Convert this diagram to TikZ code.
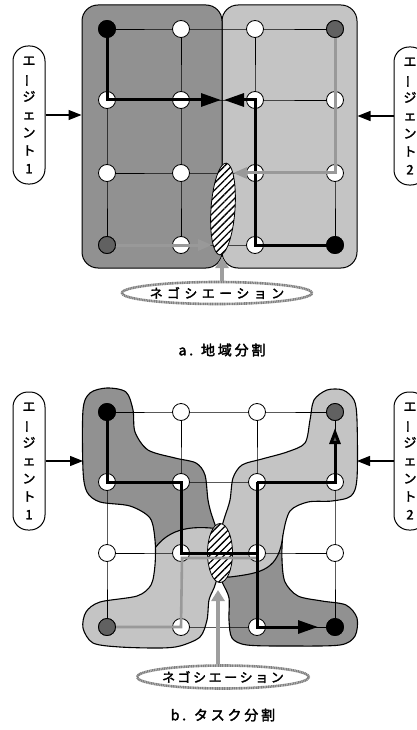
\documentclass[tikz,border=0pt]{standalone}
\usepackage{fontspec}
\usepackage{graphicx}
\newfontfamily\jp[FakeBold=2]{Noto Sans CJK JP}
\newfontfamily\jpa[FakeBold=2,LetterSpace=34]{Noto Sans CJK JP}
\newfontfamily\jpbb[FakeBold=2,LetterSpace=20]{Noto Sans CJK JP}
\newfontfamily\jpcap[FakeBold=2.5,LetterSpace=20]{Noto Sans CJK JP}
\usetikzlibrary{arrows.meta,patterns.meta,shapes.geometric}
\colorlet{dk}{black!43}
\colorlet{lt}{black!23}
\tikzset{
  wn/.style={circle, draw, fill=white, minimum size=17pt, inner sep=0pt, line width=0.8pt},
  bn/.style={wn, fill=black},
  gn/.style={wn, fill=black!62},
  gridline/.style={line width=0.7pt},
  bk/.style={line width=3pt},
  gr/.style={line width=3pt, draw=black!40},
  bkarrow/.style={bk, -{Triangle[length=20pt,width=13pt]}},
  grarrow/.style={gr, -{Triangle[length=14pt,width=11pt]}},
  agent/.style={draw, rounded corners=15pt, minimum width=32pt, minimum height=138pt, line width=1pt, inner sep=0pt, align=center, font=\jp\fontsize{13}{18}\selectfont},
  agarrow/.style={line width=1.2pt, -{Triangle[length=13pt,width=10pt]}},
  region/.style={draw, rounded corners=16pt, line width=1pt, inner sep=0pt},
  blobline/.style={line width=1.1pt},
  hatch/.style={ellipse, draw, line width=0.8pt, fill=white, inner sep=0pt, postaction={pattern={Lines[angle=45,distance=5pt,line width=1.3pt]}}},
  nego/.style={ellipse, draw=black!50, line width=2.6pt, dash pattern=on 1.2pt off 0.5pt, fill=white, inner sep=0pt},
  negoarrow/.style={line width=4pt, draw=black!38, -{Triangle[length=11pt,width=13pt]}},
  caption/.style={font=\jpcap\fontsize{14}{16}\selectfont}
}
\def\Upath{plot[smooth cycle, tension=0.5] coordinates {
 (107,388) (126,392) (133,410) (135,432) (148,450) (175,458) (196,463) (205,475) (208,500) (212,516) (219,532)
 (225,516) (230,500) (233,478) (242,465) (262,459) (287,452) (305,443) (310,420) (314,400) (327,390) (343,390)
 (354,400) (357,420) (357,478) (351,496) (332,501) (308,502) (290,511) (283,535) (282,560) (285,582) (298,596)
 (322,601) (346,605) (357,618) (355,636) (340,645) (290,646) (247,645) (232,638) (229,620) (229,598) (223,584)
 (219,575) (214,588) (209,600) (207,620) (200,637) (180,646) (160,648) (120,647) (93,643) (83,628) (86,612)
 (100,602) (137,596) (151,585) (155,565) (155,540) (150,518) (130,506) (100,502) (87,492) (83,470) (83,410) (90,393)}}
\begin{document}
\begin{tikzpicture}[x=1pt,y=-1pt]
\useasboundingbox (0,0) rectangle (417,730);
\clip (0,0) rectangle (417,730);

% ================= a. 地域分割 =================
\node[region, fill=lt, minimum width=135pt, minimum height=263pt] (regR) at (289.5,136.5) {};
\node[region, fill=dk, minimum width=140pt, minimum height=263pt] (regL) at (152,136.5) {};

\foreach \r/\y in {1/29,2/100,3/173,4/245}
  \foreach \c/\x in {1/107,2/181,3/255,4/335}
    \coordinate (p\r\c) at (\x,\y);

\foreach \r in {1,2,3,4}{
  \draw[gridline] (p\r1) -- (p\r2) -- (p\r3) -- (p\r4);
  \draw[gridline] (p1\r) -- (p2\r) -- (p3\r) -- (p4\r);
}

\node[hatch, minimum width=24pt, minimum height=92pt, rotate=-4] (hza) at (223,209) {};

\foreach \r in {1,2,3,4}
  \foreach \c in {1,2,3,4}
    \node[wn] (a\r\c) at (p\r\c) {};

\coordinate (amL) at (221,100);
\coordinate (amR) at (224,100);
\coordinate (agB) at (212,245);
\coordinate (agM) at (233,173);
\draw[bkarrow] (a11.center) -- (a21.center) -- (a22.center) -- (amL);
\draw[bkarrow] (a44.center) -- (a43.center) -- (a23.center) -- (amR);
\draw[grarrow] (a41.center) -- (a42.center) -- (agB);
\draw[grarrow] (a14.south) -- (a34.center) -- (a33.center) -- (agM);
\node[bn] at (p11) {};
\node[bn] at (p44) {};
\node[gn] at (p41) {};
\node[gn] at (p14) {};

\node[agent] (ag1a) at (29,115) {エ\\\rotatebox[origin=c]{90}{ー}\\ジ\\ェ\\ン\\ト\\1};
\node[agent] (ag2a) at (410,116) {エ\\\rotatebox[origin=c]{90}{ー}\\ジ\\ェ\\ン\\ト\\2};
\draw[agarrow] (ag1a.east) -- (ag1a.east -| regL.west);
\draw[agarrow] (ag2a.west) -- (ag2a.west -| regR.east);

\node[nego, minimum width=163pt, minimum height=22pt] (nga) at (217,293) {\jpa\fontsize{13}{14}\selectfont ネゴシエーション};
\coordinate (ctA) at (222,257);
\draw[negoarrow] (nga.north -| ctA) -- (ctA);

\node[caption] (capa) at (222,350) {a. 地域分割};

% ================= b. タスク分割 =================
\foreach \r/\y in {1/412,2/482,3/553,4/627}
  \foreach \c/\x in {1/107,2/181,3/257,4/335}
    \coordinate (q\r\c) at (\x,\y);

\begin{scope}
  \clip \Upath;
  \fill[lt] (50,370) rectangle (380,700);
  \fill[dk] (60,370) -- (220,370) -- (220,529) .. controls (190,525) and (165,528) .. (150,556) -- (60,556) -- cycle;
  \fill[dk] (219,577) -- (230,577) .. controls (262,573) and (279,570) .. (283,535) -- (292,528) -- (400,528) -- (400,700) -- (219,700) -- cycle;
  \draw[blobline] (220,529) .. controls (190,525) and (165,528) .. (150,556);
  \draw[blobline] (219,577) -- (230,577) .. controls (262,573) and (279,570) .. (283,535);
\end{scope}
\draw[blobline] \Upath;

\foreach \r in {1,2,3,4}{
  \draw[gridline] (q\r1) -- (q\r2) -- (q\r3) -- (q\r4);
  \draw[gridline] (q1\r) -- (q2\r) -- (q3\r) -- (q4\r);
}
\node[hatch, minimum width=25pt, minimum height=59pt] (hzb) at (220,553) {};

\foreach \r in {1,2,3,4}
  \foreach \c in {1,2,3,4}
    \node[wn] (b\r\c) at (q\r\c) {};

\coordinate (g1) at (182,558);
\coordinate (g2) at (257,558);
\coordinate (btip) at (318,627);
\coordinate (ttip) at (335,428);
\draw[gr, line width=2.6pt] (b41.center) -- (b42.center) -- (g1) -- (g2);
\draw[bk] (b11.center) -- (b21.center) -- (b22.center) -- (b32.center) -- (b33.center);
\draw[bkarrow] (b23.center) -- (b43.center) -- (btip);
\draw[bk, -{Triangle[length=16pt,width=11pt,fill=black!65]}] (b23.center) -- (b24.center) -- (ttip);
\node[bn] at (q11) {};
\node[gn] at (q14) {};
\node[gn] at (q41) {};
\node[bn] at (q44) {};

\coordinate (bLe) at (83,461);
\coordinate (bRe) at (357,461);
\node[agent] (ag1b) at (29,461) {エ\\\rotatebox[origin=c]{90}{ー}\\ジ\\ェ\\ン\\ト\\1};
\node[agent] (ag2b) at (410,461) {エ\\\rotatebox[origin=c]{90}{ー}\\ジ\\ェ\\ン\\ト\\2};
\draw[agarrow] (ag1b.east) -- (bLe);
\draw[agarrow] (ag2b.west) -- (bRe);

\node[nego, minimum width=145pt, minimum height=23pt] (ngb) at (223,677) {\jpbb\fontsize{13}{14}\selectfont ネゴシエーション};
\coordinate (ctB) at (218,590);
\draw[negoarrow] (ngb.north -| ctB) -- (ctB);

\node[caption] (capb) at (223,715) {b. タスク分割};
\end{tikzpicture}
\end{document}
